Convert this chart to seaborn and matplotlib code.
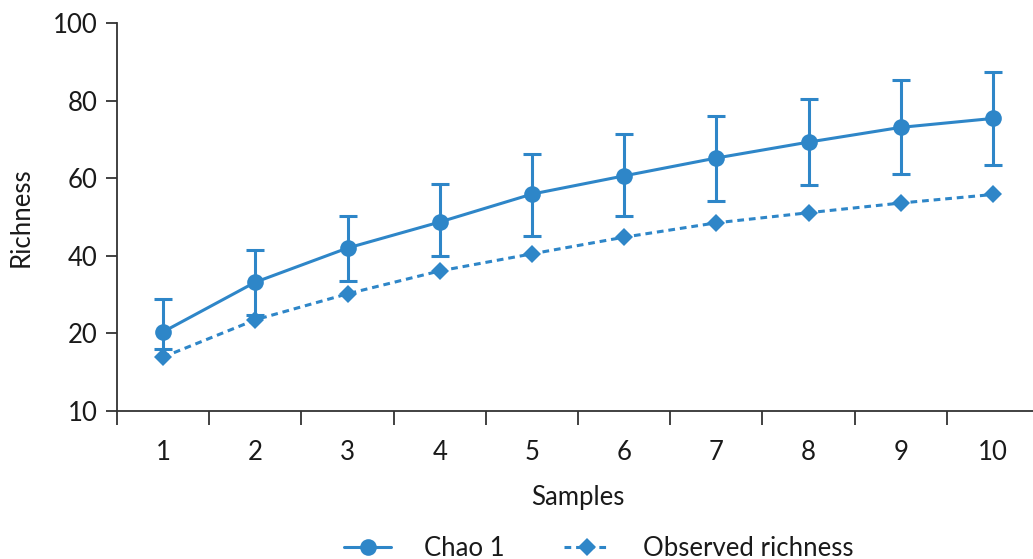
import matplotlib
matplotlib.use("Agg")
import matplotlib.pyplot as plt
import seaborn as sns
import pandas as pd
import numpy as np
from matplotlib.ticker import FixedLocator

samples = [1, 2, 3, 4, 5, 6, 7, 8, 9, 10]
chao1 = [20.4, 33.2, 42.0, 48.7, 55.9, 60.6, 65.2, 69.3, 73.1, 75.4]
chao1_upper = [28.9, 41.5, 50.3, 58.5, 66.2, 71.4, 76.0, 80.4, 85.2, 87.5]
chao1_lower = [16.0, 24.7, 33.5, 40.0, 45.1, 50.3, 54.1, 58.2, 61.0, 63.3]
observed = [13.9, 23.5, 30.2, 36.1, 40.5, 44.8, 48.5, 51.1, 53.6, 55.8]
ytick_values = [0, 20, 40, 60, 80, 100]
ytick_labels = ["10", "20", "40", "60", "80", "100"]

color = "#2E86C8"

sns.set_theme(style="white")
plt.rcParams["font.family"] = ["Lato", "DejaVu Sans"]

fig = plt.figure(figsize=(10.33, 5.59), dpi=100)
ax = fig.add_axes([117 / 1033, 1 - 411 / 559, 922 / 1033, 388 / 559])

df = pd.DataFrame({"Samples": samples, "Chao 1": chao1, "Observed richness": observed})

yerr = np.array([np.array(chao1) - np.array(chao1_lower), np.array(chao1_upper) - np.array(chao1)])
ax.errorbar(samples, chao1, yerr=yerr, fmt="none", ecolor=color, elinewidth=2.2,
            capsize=6.5, capthick=2.2, zorder=2)

sns.lineplot(data=df, x="Samples", y="Chao 1", ax=ax, color=color, linewidth=2.2,
             marker="o", markersize=12, markeredgewidth=0, label="Chao 1", zorder=3)
sns.lineplot(data=df, x="Samples", y="Observed richness", ax=ax, color=color, linewidth=2.2,
             linestyle=(0, (2.2, 1.6)), marker="D", markersize=9, markeredgewidth=0,
             label="Observed richness", zorder=3)

ax.set_xlim(0.5, 10.5)
ax.set_ylim(0, 100)
ax.set_yticks(ytick_values)
ax.set_yticklabels(ytick_labels)
ax.set_xticks(samples)
ax.set_xticklabels([str(s) for s in samples])
ax.xaxis.set_minor_locator(FixedLocator(np.arange(0.5, 11, 1.0)))

for s in ["top", "right"]:
    ax.spines[s].set_visible(False)
for s in ["left", "bottom"]:
    ax.spines[s].set_color("#333333")
    ax.spines[s].set_linewidth(1.3)

ax.tick_params(axis="y", which="major", direction="out", length=8, width=1.3,
               color="#333333", labelsize=18.5, labelcolor="#1a1a1a", pad=6, left=True)
ax.tick_params(axis="x", which="major", length=0, labelsize=18.5, labelcolor="#1a1a1a", pad=21)
ax.tick_params(axis="x", which="minor", direction="out", length=10, width=1.3,
               color="#333333", bottom=True)

ax.set_xlabel("Samples", fontsize=18.5, color="#1a1a1a", labelpad=14)
ax.set_ylabel("Richness", fontsize=18.5, color="#1a1a1a", labelpad=14)
ax.grid(False)

handles, labels = ax.get_legend_handles_labels()
ax.get_legend().remove()
fig.legend(handles, labels, loc="lower center", bbox_to_anchor=(0.58, -0.045), ncol=2,
           frameon=False, fontsize=18.5, handlelength=1.8, handletextpad=1.3,
           columnspacing=2.3, labelcolor="#1a1a1a")

fig.savefig("out.png", dpi=100)
